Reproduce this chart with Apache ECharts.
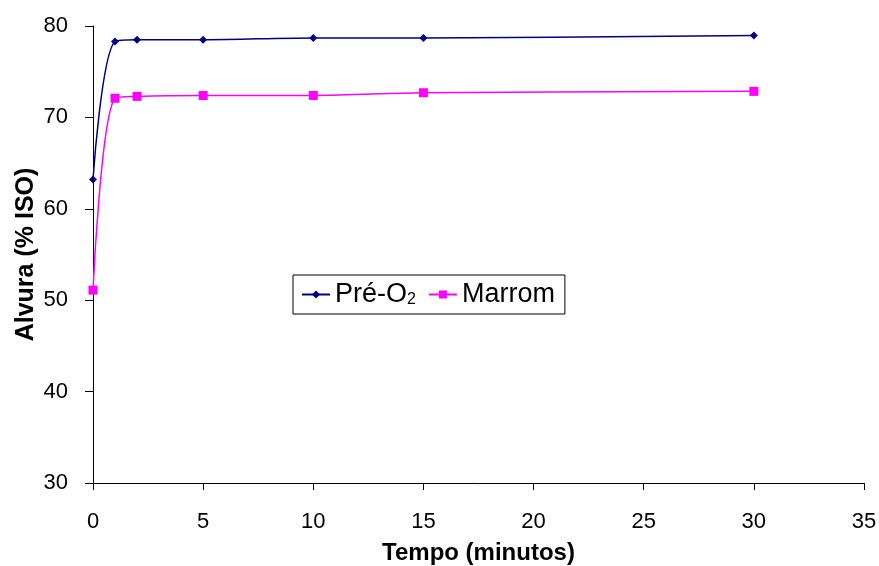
<!DOCTYPE html>
<html>
<head>
<meta charset="utf-8">
<script src="https://cdn.jsdelivr.net/npm/echarts@6/dist/echarts.min.js"></script>
<style>
  html, body { margin: 0; padding: 0; background: #fff; }
  #chart { width: 879px; height: 566px; }
</style>
</head>
<body>
<div id="chart"></div>
<script>
// Tempo (minutos)
const tempo = [0, 1, 2, 5, 10, 15, 30];
// Alvura (% ISO) por amostra
const preO2 = [63.2, 78.3, 78.5, 78.5, 78.7, 78.7, 78.95];
const marrom = [51.1, 72.1, 72.3, 72.4, 72.4, 72.7, 72.85];

const xTicks = [0, 5, 10, 15, 20, 25, 30, 35];
const yTicks = [30, 40, 50, 60, 70, 80];

const font = '"Liberation Sans", Arial, sans-serif';

const chart = echarts.init(document.getElementById('chart'), null, { renderer: 'canvas' });

function pairs(xs, ys) { return xs.map((x, i) => [x, ys[i]]); }

chart.setOption({
  animation: false,
  backgroundColor: '#ffffff',
  grid: { left: 93, right: 15, top: 26, bottom: 83, containLabel: false, outerBoundsMode: 'none' },
  xAxis: {
    type: 'value',
    min: xTicks[0], max: xTicks[xTicks.length - 1], interval: 5,
    name: 'Tempo (minutos)', nameLocation: 'middle', nameGap: 58, nameMoveOverlap: false,
    nameTextStyle: { fontFamily: font, fontSize: 24, fontWeight: 'bold', color: '#000' },
    axisLine: { lineStyle: { color: '#000', width: 1 } },
    axisTick: { show: true, length: 7, lineStyle: { color: '#000' } },
    axisLabel: { fontFamily: font, fontSize: 22, color: '#000', margin: 28 },
    splitLine: { show: false }
  },
  yAxis: {
    type: 'value',
    min: yTicks[0], max: yTicks[yTicks.length - 1], interval: 10,
    name: 'Alvura (% ISO)', nameLocation: 'middle', nameGap: 54, nameRotate: 90, nameMoveOverlap: false,
    nameTextStyle: { fontFamily: font, fontSize: 25, fontWeight: 'bold', color: '#000' },
    axisLine: { show: true, lineStyle: { color: '#000', width: 1 } },
    axisTick: { show: true, length: 8, lineStyle: { color: '#000' } },
    axisLabel: { fontFamily: font, fontSize: 22, color: '#000', margin: 25 },
    splitLine: { show: false }
  },
  legend: {
    left: 293, top: 275,
    padding: [6, 10, 6, 8],
    borderColor: '#000', borderWidth: 1,
    itemWidth: 28, itemHeight: 10, itemGap: 12,
    data: ['Pré-O2', 'Marrom'],
    formatter: function (name) {
      return name === 'Pré-O2' ? '{n|Pré-O}{s|2}' : '{n|Marrom}';
    },
    textStyle: {
      fontFamily: font, fontSize: 27, color: '#000',
      rich: {
        n: { fontFamily: font, fontSize: 27, color: '#000' },
        s: { fontFamily: font, fontSize: 16, color: '#000', verticalAlign: 'bottom', padding: [10, 0, 0, 0] }
      }
    }
  },
  series: [
    {
      name: 'Pré-O2', type: 'line', smooth: 0.35,
      data: pairs(tempo, preO2),
      symbol: 'diamond', symbolSize: 8,
      lineStyle: { color: '#000080', width: 1.5 },
      itemStyle: { color: '#000080' }
    },
    {
      name: 'Marrom', type: 'line', smooth: 0.35,
      data: pairs(tempo, marrom),
      symbol: 'rect', symbolSize: 9,
      lineStyle: { color: '#FF00FF', width: 1.5 },
      itemStyle: { color: '#FF00FF' }
    }
  ]
});
</script>
</body>
</html>
